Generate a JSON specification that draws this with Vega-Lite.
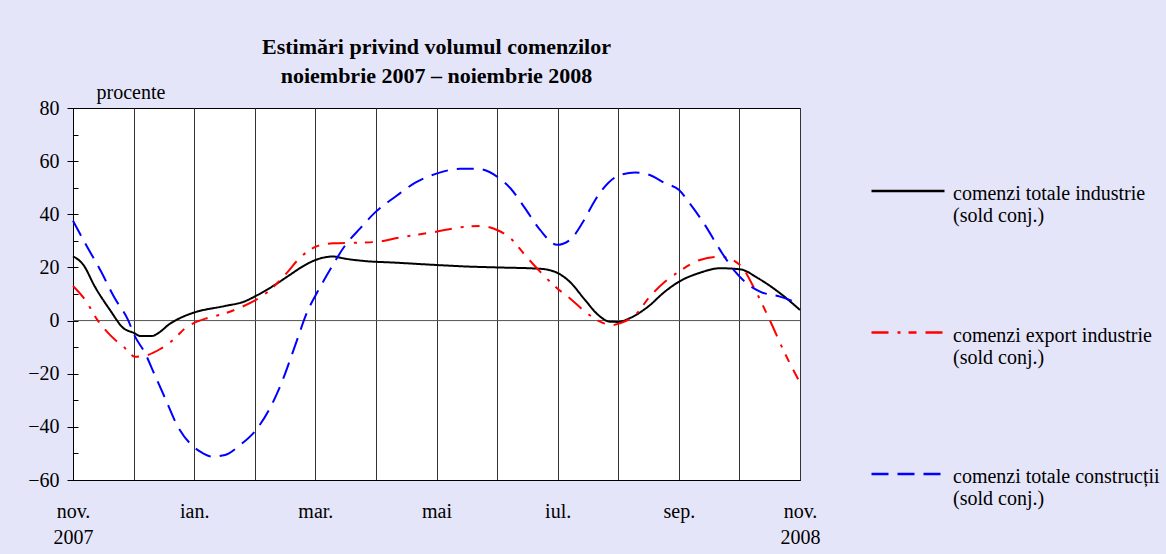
{
  "$schema": "https://vega.github.io/schema/vega-lite/v6.json",
  "width": 727,
  "height": 372,
  "autosize": {"type": "none"},
  "padding": {"left": 73, "top": 108, "right": 366, "bottom": 74},
  "background": "#E5E5FA",
  "config": {
    "font": "Liberation Serif",
    "view": {"fill": "white", "stroke": "#000", "strokeWidth": 1}
  },
  "title": {
    "text": ["Estimări privind volumul comenzilor", "noiembrie 2007 – noiembrie 2008"],
    "fontSize": 22, "fontWeight": "bold", "font": "Liberation Serif", "color": "#000",
    "anchor": "middle", "frame": "group", "baseline": "bottom", "lineHeight": 29, "offset": 20, "dy": 48
  },
  "resolve": {"axis": {"y": "independent"}},
  "layer": [
    {
      "data": {"values": [{"z": 0}]},
      "mark": {"type": "rule", "color": "#555", "strokeWidth": 1},
      "encoding": {
        "y": {"field": "z", "type": "quantitative",
          "scale": {"domain": [-60, 80], "nice": false, "zero": false},
          "axis": {"orient": "left", "values": [-60,-50,-40,-30,-20,-10,0,10,20,30,40,50,60,70,80],
            "tickSize": -5, "tickColor": "#000", "labels": false, "domain": false, "grid": false, "title": null}}
      }
    },
    {
      "data": {"values": [
        {"s": "comenzi totale industrie", "t": 0, "v": 24.2},
        {"s": "comenzi totale industrie", "t": 0.17, "v": 21},
        {"s": "comenzi totale industrie", "t": 0.36, "v": 12.8},
        {"s": "comenzi totale industrie", "t": 0.61, "v": 4},
        {"s": "comenzi totale industrie", "t": 0.83, "v": -2.8},
        {"s": "comenzi totale industrie", "t": 1.01, "v": -4.7},
        {"s": "comenzi totale industrie", "t": 1.11, "v": -5.8},
        {"s": "comenzi totale industrie", "t": 1.3, "v": -5.8},
        {"s": "comenzi totale industrie", "t": 1.44, "v": -4.2},
        {"s": "comenzi totale industrie", "t": 1.57, "v": -1.7},
        {"s": "comenzi totale industrie", "t": 1.82, "v": 1.5},
        {"s": "comenzi totale industrie", "t": 2.01, "v": 3.1},
        {"s": "comenzi totale industrie", "t": 2.51, "v": 5.5},
        {"s": "comenzi totale industrie", "t": 2.82, "v": 7.1},
        {"s": "comenzi totale industrie", "t": 3.02, "v": 9.3},
        {"s": "comenzi totale industrie", "t": 3.33, "v": 13.4},
        {"s": "comenzi totale industrie", "t": 3.58, "v": 17.2},
        {"s": "comenzi totale industrie", "t": 3.83, "v": 20.9},
        {"s": "comenzi totale industrie", "t": 4.04, "v": 23.1},
        {"s": "comenzi totale industrie", "t": 4.29, "v": 24.1},
        {"s": "comenzi totale industrie", "t": 4.49, "v": 23.3},
        {"s": "comenzi totale industrie", "t": 4.82, "v": 22.4},
        {"s": "comenzi totale industrie", "t": 5.32, "v": 21.8},
        {"s": "comenzi totale industrie", "t": 6.01, "v": 20.9},
        {"s": "comenzi totale industrie", "t": 6.55, "v": 20.3},
        {"s": "comenzi totale industrie", "t": 7.0, "v": 20},
        {"s": "comenzi totale industrie", "t": 7.71, "v": 19.5},
        {"s": "comenzi totale industrie", "t": 7.99, "v": 18},
        {"s": "comenzi totale industrie", "t": 8.2, "v": 14.6},
        {"s": "comenzi totale industrie", "t": 8.45, "v": 7.8},
        {"s": "comenzi totale industrie", "t": 8.67, "v": 2.1},
        {"s": "comenzi totale industrie", "t": 8.86, "v": -0.4},
        {"s": "comenzi totale industrie", "t": 9.0, "v": -0.5},
        {"s": "comenzi totale industrie", "t": 9.19, "v": 0.9},
        {"s": "comenzi totale industrie", "t": 9.49, "v": 5.2},
        {"s": "comenzi totale industrie", "t": 9.77, "v": 10.9},
        {"s": "comenzi totale industrie", "t": 10.0, "v": 14.6},
        {"s": "comenzi totale industrie", "t": 10.35, "v": 18},
        {"s": "comenzi totale industrie", "t": 10.68, "v": 19.7},
        {"s": "comenzi totale industrie", "t": 11.01, "v": 19.3},
        {"s": "comenzi totale industrie", "t": 11.31, "v": 15.9},
        {"s": "comenzi totale industrie", "t": 11.67, "v": 10.3},
        {"s": "comenzi totale industrie", "t": 12, "v": 4},

        {"s": "comenzi export industrie", "t": 0, "v": 13},
        {"s": "comenzi export industrie", "t": 0.2, "v": 7.8},
        {"s": "comenzi export industrie", "t": 0.41, "v": 0},
        {"s": "comenzi export industrie", "t": 0.61, "v": -5.4},
        {"s": "comenzi export industrie", "t": 0.86, "v": -10.4},
        {"s": "comenzi export industrie", "t": 1.02, "v": -13.6},
        {"s": "comenzi export industrie", "t": 1.19, "v": -13.2},
        {"s": "comenzi export industrie", "t": 1.44, "v": -10.7},
        {"s": "comenzi export industrie", "t": 1.68, "v": -6.7},
        {"s": "comenzi export industrie", "t": 1.85, "v": -2.9},
        {"s": "comenzi export industrie", "t": 2.01, "v": -0.8},
        {"s": "comenzi export industrie", "t": 2.21, "v": 0.9},
        {"s": "comenzi export industrie", "t": 2.51, "v": 2.7},
        {"s": "comenzi export industrie", "t": 2.76, "v": 4.9},
        {"s": "comenzi export industrie", "t": 3.02, "v": 7.8},
        {"s": "comenzi export industrie", "t": 3.25, "v": 11.5},
        {"s": "comenzi export industrie", "t": 3.5, "v": 17.2},
        {"s": "comenzi export industrie", "t": 3.75, "v": 23.7},
        {"s": "comenzi export industrie", "t": 4.04, "v": 28.1},
        {"s": "comenzi export industrie", "t": 4.29, "v": 29.1},
        {"s": "comenzi export industrie", "t": 4.66, "v": 29.3},
        {"s": "comenzi export industrie", "t": 5.0, "v": 29.6},
        {"s": "comenzi export industrie", "t": 5.4, "v": 31.3},
        {"s": "comenzi export industrie", "t": 6.01, "v": 33.5},
        {"s": "comenzi export industrie", "t": 6.39, "v": 35.1},
        {"s": "comenzi export industrie", "t": 6.72, "v": 35.6},
        {"s": "comenzi export industrie", "t": 7.0, "v": 34.1},
        {"s": "comenzi export industrie", "t": 7.22, "v": 31},
        {"s": "comenzi export industrie", "t": 7.46, "v": 24.7},
        {"s": "comenzi export industrie", "t": 7.71, "v": 18.4},
        {"s": "comenzi export industrie", "t": 7.99, "v": 12.2},
        {"s": "comenzi export industrie", "t": 8.2, "v": 8.4},
        {"s": "comenzi export industrie", "t": 8.45, "v": 3.4},
        {"s": "comenzi export industrie", "t": 8.7, "v": -0.4},
        {"s": "comenzi export industrie", "t": 8.9, "v": -1.7},
        {"s": "comenzi export industrie", "t": 9.03, "v": -1},
        {"s": "comenzi export industrie", "t": 9.28, "v": 2.1},
        {"s": "comenzi export industrie", "t": 9.52, "v": 9},
        {"s": "comenzi export industrie", "t": 9.77, "v": 14.6},
        {"s": "comenzi export industrie", "t": 10.0, "v": 18.4},
        {"s": "comenzi export industrie", "t": 10.35, "v": 22.8},
        {"s": "comenzi export industrie", "t": 10.68, "v": 24},
        {"s": "comenzi export industrie", "t": 11.01, "v": 20.9},
        {"s": "comenzi export industrie", "t": 11.26, "v": 11.5},
        {"s": "comenzi export industrie", "t": 11.5, "v": 0.2},
        {"s": "comenzi export industrie", "t": 11.75, "v": -12.3},
        {"s": "comenzi export industrie", "t": 11.97, "v": -22.1},

        {"s": "comenzi totale construcții", "t": 0, "v": 37.6},
        {"s": "comenzi totale construcții", "t": 0.2, "v": 29.1},
        {"s": "comenzi totale construcții", "t": 0.45, "v": 19},
        {"s": "comenzi totale construcții", "t": 0.69, "v": 8.4},
        {"s": "comenzi totale construcții", "t": 0.91, "v": 0.2},
        {"s": "comenzi totale construcții", "t": 1.01, "v": -5.4},
        {"s": "comenzi totale construcții", "t": 1.19, "v": -12.3},
        {"s": "comenzi totale construcții", "t": 1.35, "v": -20.5},
        {"s": "comenzi totale construcții", "t": 1.52, "v": -29.2},
        {"s": "comenzi totale construcții", "t": 1.73, "v": -39.9},
        {"s": "comenzi totale construcții", "t": 1.93, "v": -46.2},
        {"s": "comenzi totale construcții", "t": 2.1, "v": -49.3},
        {"s": "comenzi totale construcții", "t": 2.3, "v": -51.2},
        {"s": "comenzi totale construcții", "t": 2.51, "v": -50.6},
        {"s": "comenzi totale construcții", "t": 2.76, "v": -46.8},
        {"s": "comenzi totale construcții", "t": 3.02, "v": -41.2},
        {"s": "comenzi totale construcții", "t": 3.25, "v": -33},
        {"s": "comenzi totale construcții", "t": 3.45, "v": -23},
        {"s": "comenzi totale construcții", "t": 3.66, "v": -9.8},
        {"s": "comenzi totale construcții", "t": 3.88, "v": 4},
        {"s": "comenzi totale construcții", "t": 4.04, "v": 11},
        {"s": "comenzi totale construcții", "t": 4.24, "v": 19},
        {"s": "comenzi totale construcții", "t": 4.49, "v": 28.2},
        {"s": "comenzi totale construcții", "t": 4.74, "v": 34.7},
        {"s": "comenzi totale construcții", "t": 5.0, "v": 41},
        {"s": "comenzi totale construcții", "t": 5.32, "v": 46.6},
        {"s": "comenzi totale construcții", "t": 5.65, "v": 51.9},
        {"s": "comenzi totale construcții", "t": 6.01, "v": 55.4},
        {"s": "comenzi totale construcții", "t": 6.39, "v": 57.1},
        {"s": "comenzi totale construcții", "t": 6.67, "v": 57.1},
        {"s": "comenzi totale construcții", "t": 7.0, "v": 54.2},
        {"s": "comenzi totale construcții", "t": 7.22, "v": 49.8},
        {"s": "comenzi totale construcții", "t": 7.46, "v": 42.3},
        {"s": "comenzi totale construcții", "t": 7.71, "v": 34.1},
        {"s": "comenzi totale construcții", "t": 7.99, "v": 28.5},
        {"s": "comenzi totale construcții", "t": 8.2, "v": 30.3},
        {"s": "comenzi totale construcții", "t": 8.42, "v": 37.2},
        {"s": "comenzi totale construcții", "t": 8.62, "v": 45.4},
        {"s": "comenzi totale construcții", "t": 8.83, "v": 51.7},
        {"s": "comenzi totale construcții", "t": 9.03, "v": 54.8},
        {"s": "comenzi totale construcții", "t": 9.28, "v": 55.7},
        {"s": "comenzi totale construcții", "t": 9.52, "v": 54.8},
        {"s": "comenzi totale construcții", "t": 9.77, "v": 51.7},
        {"s": "comenzi totale construcții", "t": 10.0, "v": 49.2},
        {"s": "comenzi totale construcții", "t": 10.18, "v": 44.1},
        {"s": "comenzi totale construcții", "t": 10.43, "v": 36},
        {"s": "comenzi totale construcții", "t": 10.68, "v": 26.6},
        {"s": "comenzi totale construcții", "t": 10.93, "v": 18.4},
        {"s": "comenzi totale construcții", "t": 11.09, "v": 14.6},
        {"s": "comenzi totale construcții", "t": 11.34, "v": 10.9},
        {"s": "comenzi totale construcții", "t": 11.67, "v": 9},
        {"s": "comenzi totale construcții", "t": 12, "v": 6.2}
      ]},
      "mark": {"type": "line", "interpolate": "monotone", "strokeWidth": 2},
      "encoding": {
        "x": {"field": "t", "type": "quantitative",
          "scale": {"domain": [0, 12], "nice": false, "zero": false},
          "axis": {"values": [0,1,2,3,4,5,6,7,8,9,10,11,12],
            "labelExpr": "[['nov.','2007'],'','ian.','','mar.','','mai','','iul.','','sep.','',['nov.','2008']][datum.value]",
            "labelFontSize": 20, "labelColor": "#000", "labelLineHeight": 26, "labelBaseline": "top",
            "labelPadding": 21, "labelOverlap": false, "labelBound": false, "labelFlush": false,
            "ticks": false, "tickSize": 0, "domain": true, "domainColor": "#000",
            "grid": true, "gridColor": "#333", "gridWidth": 1, "gridOpacity": 1, "title": null}},
        "y": {"field": "v", "type": "quantitative",
          "scale": {"domain": [-60, 80], "nice": false, "zero": false},
          "axis": {"orient": "left", "values": [-60,-40,-20,0,20,40,60,80],
            "labelFontSize": 20, "labelColor": "#000", "labelPadding": 8,
            "tickSize": 6, "tickColor": "#000", "domainColor": "#000", "grid": false,
            "title": "procente", "titleAngle": 0, "titleAlign": "left", "titleBaseline": "alphabetic",
            "titleX": 23, "titleY": -10, "titleFontSize": 20, "titleFontWeight": "normal", "titleColor": "#000"}},
        "color": {"field": "s", "type": "nominal",
          "scale": {"domain": ["comenzi totale industrie", "comenzi export industrie", "comenzi totale construcții"],
            "range": ["#000000", "#FF0000", "#0000FF"]},
          "legend": {"orient": "none", "legendX": 797, "legendY": 45, "title": null, "padding": 0,
            "symbolType": "stroke", "symbolSize": 5329, "symbolStrokeWidth": 2.5,
            "labelFontSize": 20, "labelColor": "#000", "labelLineHeight": 27, "labelBaseline": "alphabetic",
            "labelOffset": 7, "rowPadding": 68.5, "labelLimit": 300,
            "labelExpr": "[datum.label, '(sold conj.)']",
            "encoding": {"labels": {"dy": {"value": 9}}}}},
        "strokeDash": {"field": "s", "type": "nominal",
          "scale": {"domain": ["comenzi totale industrie", "comenzi export industrie", "comenzi totale construcții"],
            "range": [[1, 0], [17, 9, 3, 8, 8, 9], [17, 9]]},
          "legend": {"orient": "none", "legendX": 797, "legendY": 45, "title": null, "padding": 0,
            "symbolType": "stroke", "symbolSize": 5329, "symbolStrokeWidth": 2.5,
            "labelFontSize": 20, "labelColor": "#000", "labelLineHeight": 27, "labelBaseline": "alphabetic",
            "labelOffset": 7, "rowPadding": 68.5, "labelLimit": 300,
            "labelExpr": "[datum.label, '(sold conj.)']",
            "encoding": {"labels": {"dy": {"value": 9}}}}}
      }
    }
  ]
}
